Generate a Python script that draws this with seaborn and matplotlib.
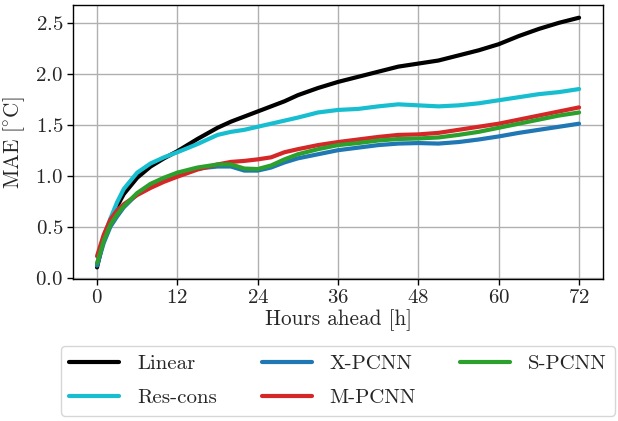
import numpy as np
import pandas as pd
import matplotlib
matplotlib.use("Agg")
import matplotlib.pyplot as plt
import seaborn as sns

hours = [0, 1, 2, 3, 4, 6, 8, 10, 12, 15, 18, 20, 22, 24, 26, 28, 30, 33, 36,
         39, 42, 45, 48, 51, 54, 57, 60, 63, 66, 69, 72]

linear = [0.10, 0.38, 0.55, 0.70, 0.82, 0.98, 1.09, 1.17, 1.24, 1.36, 1.47, 1.53,
          1.58, 1.63, 1.68, 1.73, 1.79, 1.86, 1.92, 1.97, 2.02, 2.07, 2.10, 2.13,
          2.18, 2.23, 2.29, 2.37, 2.44, 2.50, 2.55]
res_cons = [0.12, 0.40, 0.58, 0.74, 0.87, 1.03, 1.12, 1.18, 1.23, 1.31, 1.40, 1.43,
            1.45, 1.48, 1.51, 1.54, 1.57, 1.62, 1.645, 1.655, 1.68, 1.70, 1.69, 1.68,
            1.69, 1.71, 1.74, 1.77, 1.80, 1.82, 1.85]
x_pcnn = [0.12, 0.34, 0.50, 0.60, 0.69, 0.82, 0.91, 0.97, 1.02, 1.07, 1.09, 1.09,
          1.05, 1.05, 1.08, 1.13, 1.17, 1.21, 1.25, 1.275, 1.30, 1.315, 1.32, 1.315,
          1.33, 1.355, 1.385, 1.42, 1.45, 1.48, 1.51]
m_pcnn = [0.21, 0.42, 0.57, 0.66, 0.72, 0.81, 0.88, 0.94, 0.99, 1.06, 1.11, 1.135,
          1.145, 1.16, 1.18, 1.23, 1.26, 1.30, 1.33, 1.355, 1.38, 1.40, 1.405, 1.42,
          1.45, 1.48, 1.51, 1.55, 1.59, 1.63, 1.67]
s_pcnn = [0.14, 0.36, 0.52, 0.62, 0.70, 0.83, 0.92, 0.98, 1.03, 1.08, 1.11, 1.11,
          1.07, 1.065, 1.10, 1.16, 1.21, 1.26, 1.30, 1.32, 1.345, 1.36, 1.365, 1.375,
          1.40, 1.43, 1.47, 1.51, 1.55, 1.59, 1.62]

models = ["Linear", "Res-cons", "X-PCNN", "M-PCNN", "S-PCNN"]
series = [linear, res_cons, x_pcnn, m_pcnn, s_pcnn]
colors = ["black", "#17becf", "#1f77b4", "#d62728", "#2ca02c"]

df = pd.concat([pd.DataFrame({"h": hours, "MAE": s, "model": m})
                for m, s in zip(models, series)], ignore_index=True)

sns.set_style("ticks", {"axes.grid": True, "grid.color": "#b0b0b0",
                        "axes.edgecolor": "black"})
plt.rcParams["font.family"] = ["cmr10", "DejaVu Serif"]
plt.rcParams["mathtext.fontset"] = "cm"
plt.rcParams["axes.formatter.use_mathtext"] = True

fig = plt.figure(figsize=(6.18, 4.21), dpi=100)
ax = fig.add_axes([0.118, 0.337, 0.858, 0.650])

sns.lineplot(data=df, x="h", y="MAE", hue="model", hue_order=models,
             palette=dict(zip(models, colors)), linewidth=3.0, ax=ax)

ax.set_xticks([0, 12, 24, 36, 48, 60, 72])
ax.set_yticks([0.0, 0.5, 1.0, 1.5, 2.0, 2.5])
ax.set_xlim(-3.6, 75.6)
ax.set_ylim(-0.015, 2.67)
ax.tick_params(labelsize=15, length=4, width=1, color="black", pad=3)
ax.set_xlabel("Hours ahead [h]", fontsize=15.3, labelpad=2)
ax.set_ylabel(r"$\mathrm{MAE\ [^{\circ}C]}$", fontsize=15.3, labelpad=6)
ax.grid(True, color="#b0b0b0", linewidth=1)
for sp in ax.spines.values():
    sp.set_color("black")
    sp.set_linewidth(1)

handles, labels = ax.get_legend_handles_labels()
ax.legend_.remove()
for h in handles:
    h.set_linewidth(3.0)
ax.legend(handles, labels, loc="upper center", bbox_to_anchor=(0.5, -0.245),
          ncol=3, fontsize=15, frameon=True, fancybox=True,
          handlelength=2.4, handletextpad=0.85, columnspacing=2.15,
          borderpad=0.4, labelspacing=0.75, borderaxespad=0)

fig.savefig("out.png", dpi=100)
